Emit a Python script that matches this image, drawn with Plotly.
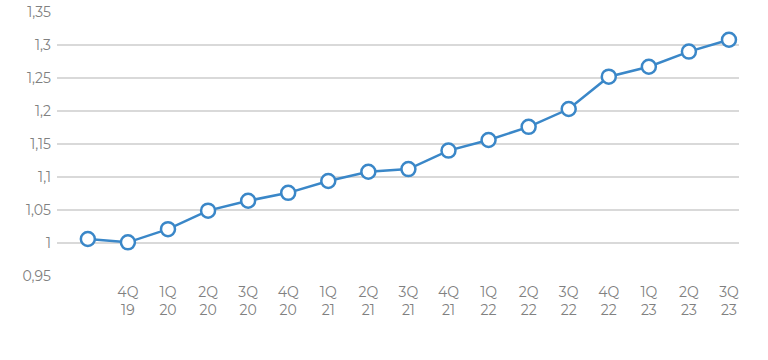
import plotly.graph_objects as go

quarters = ["", "4Q<br>19", "1Q<br>20", "2Q<br>20", "3Q<br>20", "4Q<br>20", "1Q<br>21",
            "2Q<br>21", "3Q<br>21", "4Q<br>21", "1Q<br>22", "2Q<br>22", "3Q<br>22",
            "4Q<br>22", "1Q<br>23", "2Q<br>23", "3Q<br>23"]
values = [1.006, 1.001, 1.021, 1.049, 1.064, 1.076, 1.094, 1.108, 1.112, 1.140,
          1.156, 1.176, 1.203, 1.252, 1.267, 1.290, 1.308]
y_ticks = [0.95, 1.0, 1.05, 1.1, 1.15, 1.2, 1.25, 1.3, 1.35]
y_labels = ["0,95", "1", "1,05", "1,1", "1,15", "1,2", "1,25", "1,3", "1,35"]

xs = list(range(len(values)))

fig = go.Figure()
fig.add_trace(go.Scatter(
    x=xs, y=values, mode="lines+markers",
    line=dict(color="#3a87c8", width=2.5),
    marker=dict(size=14, color="white", line=dict(color="#3a87c8", width=2.5)),
    cliponaxis=False,
))

font = dict(family="Montserrat, Lato, 'Open Sans', sans-serif", size=14, color="#808080")
fig.update_layout(
    width=768, height=360,
    margin=dict(l=57, r=29, t=12, b=84, autoexpand=False),
    paper_bgcolor="white", plot_bgcolor="white",
    showlegend=False,
    font=font,
    xaxis=dict(range=[-0.77, 16.25], tickvals=xs, ticktext=quarters,
               showgrid=False, zeroline=False, showline=False, ticks="",
               tickfont=font, automargin=False, ticklabelstandoff=6),
    yaxis=dict(range=[0.95, 1.35], tickvals=y_ticks, ticktext=y_labels,
               showgrid=True, gridcolor="#d9d9d9", gridwidth=2,
               zeroline=False, showline=False, ticks="", tickfont=font,
               ticklabelstandoff=5, automargin=False),
)
fig.write_html("out.html", config={"displayModeBar": False},
               post_script="document.body.style.margin='0';document.body.style.overflow='hidden';")
